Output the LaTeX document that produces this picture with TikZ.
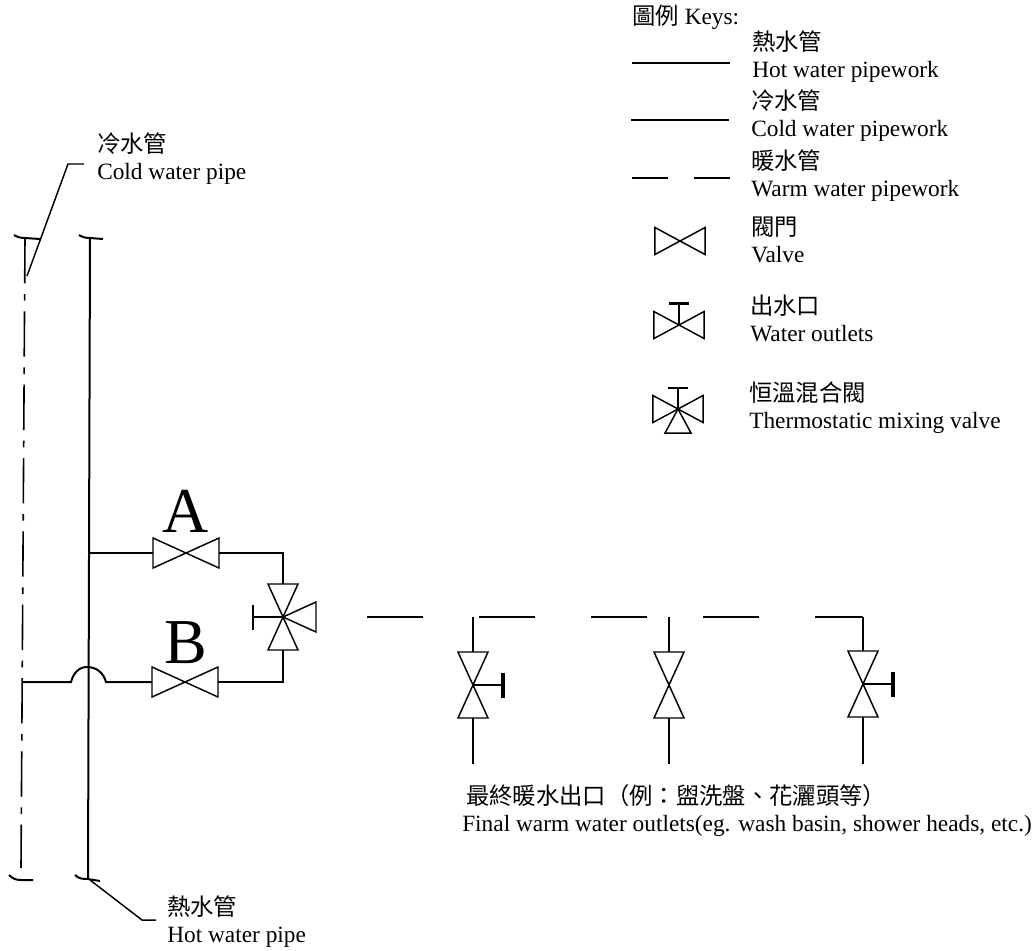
\documentclass[tikz,border=0pt]{standalone}
\usepackage{fontspec}
\setmainfont{Liberation Serif}
\newfontfamily\cjk{Noto Sans CJK TC}
\tikzset{
    pipe/.style={line width=1.5pt},
    coldline/.style={line width=1.2pt, dash pattern=on 34pt off 8pt on 5pt off 8pt},
    warmline/.style={line width=1.3pt, dash pattern=on 42pt off 42pt},
    thinline/.style={line width=1.1pt},
    handlebar/.style={line width=2.6pt},
    label/.style={anchor=base west, inner sep=0pt, align=left, font=\fontsize{17.5}{20.25}\selectfont},
    valve/.pic={
        \draw[thinline] (-33,-15) -- (33,15) -- (33,-15) -- (-33,15) -- cycle;
        \coordinate (-a) at (-33,0);
        \coordinate (-b) at (33,0);
    },
    port/.pic={
        \draw[thinline] (0,0) -- (33,-15) -- (33,15) -- cycle;
    },
    handle/.pic={
        \draw[thinline] (0,0) -- (30,0);
        \draw[handlebar] (30,-12.5) -- (30,12.5);
    }
}
\begin{document}
\begin{tikzpicture}[x=0.75pt, y=-0.75pt]
    \useasboundingbox (0,0) rectangle (1034,950);

    % risers
    \coordinate (coldtop) at (25,238);
    \coordinate (coldbot) at (21,868);
    \coordinate (hottop) at (90,238);
    \coordinate (hotbot) at (88,879);
    \draw[coldline] (coldtop) -- (coldbot);
    \draw[pipe] (hottop) -- (hotbot);
    \draw[pipe] (14,235) to[out=-30,in=180] (coldtop) -- (40,239);
    \draw[pipe] (79,235) to[out=-30,in=180] (hottop) -- (103,239);
    \draw[pipe] (9,875) to[out=-45,in=180] (21,880) -- (33,880);
    \draw[pipe] (75,875) to[out=-45,in=180] (hotbot) -- (100,881);

    % leaders
    \coordinate (coldtip) at (27,276);
    \coordinate (hottip) at (90,880);
    \draw[thinline] (coldtip) -- (68,164) -- (84,164);
    \draw[thinline] (hottip) -- (142,920) -- (156,920);
    \node[label] (coldpipe) at (97,179) {{\cjk 冷水管}\\Cold water pipe};
    \node[label] (hotpipe) at (167,942) {{\cjk 熱水管}\\Hot water pipe};

    % mixing valve and its two feeds
    \pic (va) at (186,553) {valve};
    \pic (vb) at (185,682) {valve};
    \pic[rotate=90] (mix) at (283,617) {valve};
    \pic (mixport) at (283,617) {port};
    \pic[rotate=180, handlebar/.style={line width=1.8pt}] (mixhandle) at (283,617) {handle};
    \node[font=\fontsize{48}{48}\selectfont, anchor=base, inner sep=0pt] (labela) at (186,532) {A};
    \node[font=\fontsize{48}{48}\selectfont, anchor=base, inner sep=0pt] (labelb) at (186,663) {B};
    \coordinate (hotj) at (89,553);
    \coordinate (coldj) at (23,682);
    \coordinate (hopl) at (71,682);
    \coordinate (hopt) at (87,667);
    \coordinate (hopr) at (106,682);
    \draw[pipe] (hotj) -- (va-a);
    \draw[pipe] (va-b) -| (mix-b);
    \draw[pipe] (mix-a) |- (vb-b);
    \draw[pipe] (coldj) -- (hopl) to[out=75,in=180] (hopt) to[out=0,in=105] (hopr) -- (vb-a);

    % warm water run
    \coordinate (warmstart) at (367,617);
    \coordinate (warmend) at (863,617);
    \draw[warmline] (warmstart) -- (warmend);

    % outlets
    \foreach \name/\px/\py in {outa/473/685, outb/669/685, outc/863/684} {
        \pic[rotate=90] (\name) at (\px,\py) {valve};
        \coordinate (\name top) at (\px,617);
        \coordinate (\name end) at (\px,764);
        \draw[pipe] (\name top) -- (\name-b);
        \draw[pipe] (\name-a) -- (\name end);
    }
    \pic (outahandle) at (473,685) {handle};
    \pic (outchandle) at (863,684) {handle};
    \node[label] (outlets) at (462,831) {\hspace{3pt}{\cjk 最終暖水出口（例：盥洗盤、花灑頭等）}\\Final warm water outlets(eg. wash basin, shower heads, etc.)};

    % keys
    \node[label] (keys) at (632,24) {{\cjk 圖例} Keys:};
    \coordinate (hota) at (632,63);
    \coordinate (hotb) at (730,63);
    \coordinate (colda) at (631,120);
    \coordinate (coldb) at (729,120);
    \coordinate (warma) at (632,178);
    \coordinate (warmb) at (668,178);
    \coordinate (warmc) at (694,178);
    \coordinate (warmd) at (730,178);
    \draw[line width=1.9pt] (hota) -- (hotb);
    \draw[line width=1.2pt] (colda) -- (coldb);
    \draw[pipe] (warma) -- (warmb);
    \draw[pipe] (warmc) -- (warmd);
    \node[label] (keyhot) at (752,77) {{\cjk 熱水管}\\Hot water pipework};
    \node[label] (keycold) at (751,136) {{\cjk 冷水管}\\Cold water pipework};
    \node[label] (keywarm) at (751,196) {{\cjk 暖水管}\\Warm water pipework};
    \node[label] (keyvalve) at (751,262) {{\cjk 閥門}\\Valve};
    \node[label] (keyoutlet) at (750,341) {{\cjk 出水口}\\Water outlets};
    \node[label] (keymix) at (749,428) {{\cjk 恒溫混合閥}\\Thermostatic mixing valve};

    \begin{scope}[thinline]
        \pic[xscale=0.76, yscale=0.9] (keyv) at (680,241) {valve};
        \pic[xscale=0.76, yscale=0.9] (keyo) at (679,325) {valve};
        \pic[xscale=0.76, yscale=0.9] (keym) at (678,409) {valve};
        \pic[rotate=90, xscale=0.72, yscale=0.8] (keyoh) at (679,325) {handle};
        \pic[rotate=90, xscale=0.7, yscale=0.8, handlebar/.style={line width=1.8pt}] (keymh) at (678,409) {handle};
        \pic[rotate=-90, xscale=0.73, yscale=0.87] (keymp) at (678,409) {port};
    \end{scope}
\end{tikzpicture}
\end{document}
